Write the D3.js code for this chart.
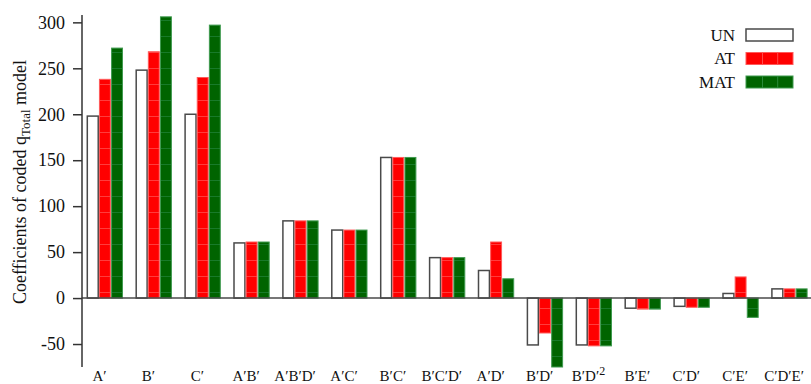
<!DOCTYPE html>
<html>
<head>
<meta charset="utf-8">
<script src="https://cdn.jsdelivr.net/npm/d3@7"></script>
<style>
  html, body { margin: 0; padding: 0; background: #fff; }
  svg { display: block; font-family: "Liberation Serif", "Times New Roman", serif; }
</style>
</head>
<body>
<svg id="chart" width="811" height="384"></svg>
<script>
// Coded model terms (x categories); "^" marks a superscript part
const categories = ["A′", "B′", "C′", "A′B′", "A′B′D′", "A′C′", "B′C′", "B′C′D′",
                    "A′D′", "B′D′", "B′D′^2", "B′E′", "C′D′", "C′E′", "C′D′E′"];
const seriesNames = ["UN", "AT", "MAT"];
const unValues  = [198, 248, 200, 60, 84, 74, 153, 44, 30, -51, -51, -11, -9, 5, 10];
const atValues  = [238, 268, 240, 61, 84, 74, 153, 44, 61, -38, -52, -12, -10, 23, 10];
const matValues = [272, 306, 297, 61, 84, 74, 153, 44, 21, -75, -52, -12, -10, -21, 10];
const yTicks = [-50, 0, 50, 100, 150, 200, 250, 300];

const seriesValues = { UN: unValues, AT: atValues, MAT: matValues };
const fills   = { UN: "#ffffff", AT: "#ff0000", MAT: "#006400" };
const strokes = { UN: "#4a4a4a", AT: "#ff5a5a", MAT: "#3f9a4f" };

const svg = d3.select("#chart");
const axisX = 82, plotTop = 15, plotBottom = 367;

const y = d3.scaleLinear().domain([-75, 308]).range([plotBottom, plotTop]);
const x = d3.scaleBand().domain(categories).range([axisX, axisX + 15 * 48.9]).paddingInner(0).paddingOuter(0);
const xs = d3.scaleBand().domain(seriesNames).range([5.3, 40.5]).paddingInner(0.1).paddingOuter(0);

// faint horizontal stripes inside the filled bars
const defs = svg.append("defs");
[["AT", "#ff3c3c"], ["MAT", "#187a2a"]].forEach(([k, c]) => {
  const p = defs.append("pattern").attr("id", "stripe-" + k)
    .attr("patternUnits", "userSpaceOnUse").attr("width", 16).attr("height", 16)
    .attr("y", 4);
  p.append("rect").attr("width", 16).attr("height", 16).attr("fill", fills[k]);
  p.append("rect").attr("y", 0).attr("width", 16).attr("height", 1).attr("fill", c);
});
const fillFor = k => k === "UN" ? fills.UN : "url(#stripe-" + k + ")";

// bars
const rows = categories.map((c, i) => ({ c, vals: seriesNames.map(s => ({ s, v: seriesValues[s][i] })) }));
const groups = svg.append("g").selectAll("g").data(rows).join("g")
  .attr("transform", d => `translate(${x(d.c)},0)`);
groups.selectAll("rect").data(d => d.vals).join("rect")
  .attr("x", d => xs(d.s))
  .attr("width", xs.bandwidth())
  .attr("y", d => y(Math.max(0, d.v)))
  .attr("height", d => Math.abs(y(d.v) - y(0)))
  .attr("fill", d => fillFor(d.s))
  .attr("stroke", d => strokes[d.s])
  .attr("stroke-width", d => d.s === "UN" ? 1.5 : 1);

// zero line
svg.append("line")
  .attr("x1", axisX).attr("x2", 811)
  .attr("y1", y(0)).attr("y2", y(0))
  .attr("stroke", "#4a4a4a").attr("stroke-width", 1.5);

// y axis
const yAxis = svg.append("g").attr("transform", `translate(${axisX},0)`)
  .call(d3.axisLeft(y).tickValues(yTicks).tickSize(9).tickPadding(8).tickFormat(d => String(d)));
yAxis.select(".domain").attr("d", `M0,${plotTop}V${plotBottom}`).attr("stroke", "#333").attr("stroke-width", 1.5);
yAxis.selectAll(".tick line").attr("stroke", "#333").attr("stroke-width", 1.5);
yAxis.selectAll(".tick text")
  .attr("font-family", "Liberation Serif, serif")
  .attr("font-size", 18).attr("fill", "#111");

// y axis title
const yt = svg.append("text")
  .attr("transform", "translate(26,182) rotate(-90)")
  .attr("text-anchor", "middle")
  .attr("font-size", 18).attr("fill", "#111");
yt.append("tspan").text("Coefficients of coded q");
yt.append("tspan").attr("font-size", 13).attr("dy", 4).text("Total");
yt.append("tspan").attr("dy", -4).text(" model");

// x category labels
const xl = svg.append("g").selectAll("text").data(categories).join("text")
  .attr("x", d => x(d) + 17.5)
  .attr("y", 381)
  .attr("text-anchor", "middle")
  .attr("font-size", 15).attr("fill", "#111");
xl.each(function(d) {
  const parts = d.split("^");
  const t = d3.select(this);
  t.append("tspan").text(parts[0]);
  if (parts[1]) t.append("tspan").attr("font-size", 12).attr("dy", -6).text(parts[1]);
});

// legend
const legend = svg.append("g");
seriesNames.forEach((s, i) => {
  const yy = 29 + i * 23.5;
  legend.append("text").attr("x", 735).attr("y", yy + 11.5)
    .attr("text-anchor", "end").attr("font-size", 17).attr("fill", "#111").text(s);
  legend.append("rect").attr("x", 746).attr("y", yy).attr("width", 47).attr("height", 12)
    .attr("fill", fills[s]).attr("stroke", strokes[s]).attr("stroke-width", s === "UN" ? 1.5 : 1);
  if (s !== "UN") {
    [762.5, 777.7].forEach(lx => legend.append("line")
      .attr("x1", lx).attr("x2", lx).attr("y1", yy).attr("y2", yy + 12)
      .attr("stroke", s === "AT" ? "#ff4a4a" : "#2a8a3a").attr("stroke-width", 1));
  }
});
</script>
</body>
</html>
